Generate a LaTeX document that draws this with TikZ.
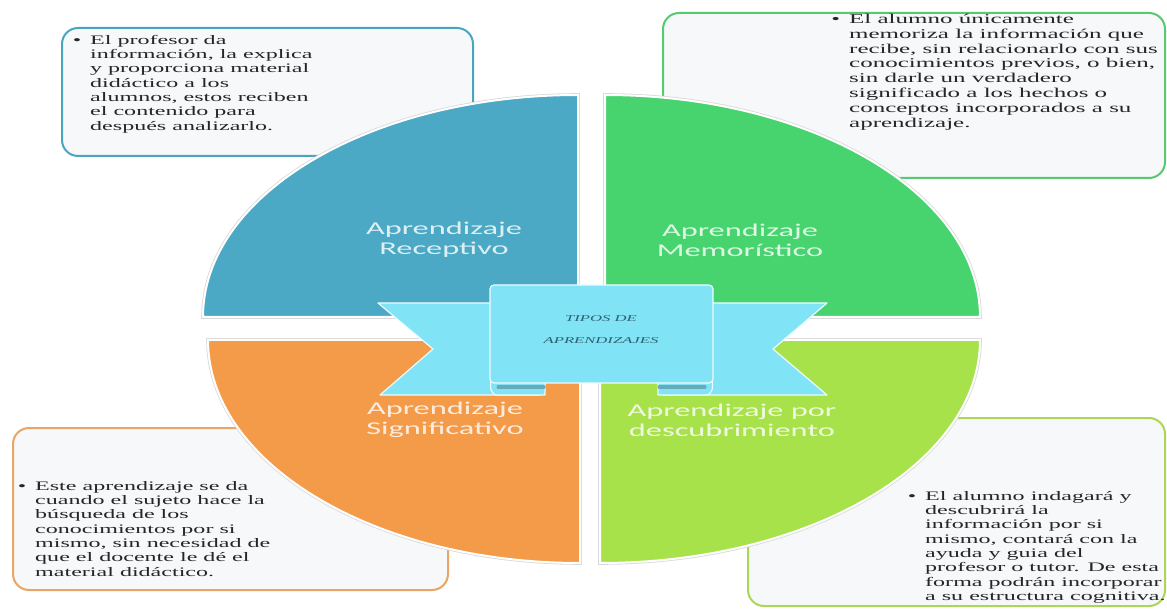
\documentclass[tikz,border=0pt]{standalone}
\usepackage{fontspec}
\setmainfont{Liberation Serif}[FakeStretch=1.85]
\newfontfamily\labfont{Carlito}[FakeStretch=1.8]
\definecolor{qblue}{HTML}{4BA9C6}
\definecolor{qgreen}{HTML}{47D46F}
\definecolor{qorange}{HTML}{F49B4A}
\definecolor{qlime}{HTML}{A8E24A}
\definecolor{rib}{HTML}{80E3F6}
\definecolor{ribdark}{HTML}{6AA9BA}
\definecolor{ribtxt}{HTML}{2F5F70}
\definecolor{boxfill}{HTML}{F6F8FA}
\definecolor{bblue}{HTML}{4CA5BF}
\definecolor{bgreen}{HTML}{57C96F}
\definecolor{borange}{HTML}{E9A565}
\definecolor{blime}{HTML}{ACD656}
\tikzset{
  quadshadow/.style={draw=black!15, line width=3.6pt},
  quad/.style={draw=white, line width=2pt},
  infobox/.style={rounded corners=16pt, line width=2pt, fill=boxfill},
  infotext/.style={anchor=north west, inner sep=0pt, align=left, text=black!85,
    font=\fontsize{13}{14.3}\selectfont},
  qlabel/.style={text=white, text opacity=0.82, align=center, inner sep=0pt,
    font=\labfont\fontsize{18}{20}\selectfont},
  ribstyle/.style={fill=rib, draw=white!85!rib, line width=1.2pt, line join=round},
  ribtext/.style={text=ribtxt, align=center, inner sep=0pt,
    font=\itshape\fontsize{9}{22}\selectfont}
}
\newcommand{\bul}{\llap{\textbullet\hspace{9pt}}}
\begin{document}
\begin{tikzpicture}[x=1pt,y=-1pt]
\useasboundingbox (0,0) rectangle (1167,609);
\fill[white] (0,0) rectangle (1167,609);
% info boxes
\draw[infobox, draw=bblue] (62,28) rectangle (473,156);
\draw[infobox, draw=bgreen] (663,13) rectangle (1165,178);
\draw[infobox, draw=borange] (13,428) rectangle (448,590);
\draw[infobox, draw=blime] (748,418) rectangle (1165,606);
% quadrants
\path[quadshadow] (578,317) -- (578,95) arc[start angle=90,end angle=180,x radius=375pt,y radius=222pt] -- cycle;
\path[quad, fill=qblue] (578,317) -- (578,95) arc[start angle=90,end angle=180,x radius=375pt,y radius=222pt] -- cycle;
\path[quadshadow] (605,317) -- (605,95) arc[start angle=90,end angle=0,x radius=375pt,y radius=222pt] -- cycle;
\path[quad, fill=qgreen] (605,317) -- (605,95) arc[start angle=90,end angle=0,x radius=375pt,y radius=222pt] -- cycle;
\path[quadshadow] (580,340) -- (208,340) arc[start angle=180,end angle=270,x radius=372pt,y radius=223pt] -- cycle;
\path[quad, fill=qorange] (580,340) -- (208,340) arc[start angle=180,end angle=270,x radius=372pt,y radius=223pt] -- cycle;
\path[quadshadow] (600,340) -- (980,340) arc[start angle=0,end angle=-90,x radius=380pt,y radius=223pt] -- cycle;
\path[quad, fill=qlime] (600,340) -- (980,340) arc[start angle=0,end angle=-90,x radius=380pt,y radius=223pt] -- cycle;
% quadrant labels
\node[qlabel] (lrec) at (444,240) {Aprendizaje\\Receptivo};
\node[qlabel] (lmem) at (740,240) {Aprendizaje\\Memorístico};
\node[qlabel] (lsig) at (445,420) {Aprendizaje\\Significativo};
\node[qlabel] (ldes) at (732,420) {Aprendizaje por\\descubrimiento};
% ribbon
\path[ribstyle] (500,303) -- (378,303) -- (433,349) -- (380,395) -- (540,395) -- (540,303) -- cycle;
\path[ribstyle] (703,303) -- (827,303) -- (773,349) -- (827,395) -- (663,395) -- (663,303) -- cycle;
\path[ribstyle] (545,378) -- (545,395) -- (498,395) .. controls (490,395) and (490,388) .. (491,378) -- cycle;
\path[ribstyle] (658,378) -- (658,395) -- (705,395) .. controls (713,395) and (713,388) .. (712,378) -- cycle;
\draw[ribdark, line width=3pt, line cap=round] (498,387) -- (544,387);
\draw[ribdark, line width=3pt, line cap=round] (659,387) -- (705,387);
\path[ribstyle, rounded corners=4pt] (490,285) rectangle (713,383);
\node[ribtext] (title) at (601,330) {TIPOS DE\\APRENDIZAJES};
% texts
\node[infotext] (trec) at (90,35) {\bul El profesor da\\información, la explica\\y proporciona material\\didáctico a los\\alumnos, estos reciben\\el contenido para\\después analizarlo.};
\node[infotext, font=\fontsize{13.5}{14.8}\selectfont] (tmem) at (849,14) {\bul El alumno únicamente\\memoriza la información que\\recibe, sin relacionarlo con sus\\conocimientos previos, o bien,\\sin darle un verdadero\\significado a los hechos o\\conceptos incorporados a su\\aprendizaje.};
\node[infotext] (tsig) at (35,481) {\bul Este aprendizaje se da\\cuando el sujeto hace la\\búsqueda de los\\conocimientos por si\\mismo, sin necesidad de\\que el docente le dé el\\material didáctico.};
\node[infotext] (tdes) at (925,491) {\bul El alumno indagará y\\descubrirá la\\información por si\\mismo, contará con la\\ayuda y guia del\\profesor o tutor. De esta\\forma podrán incorporar\\a su estructura cognitiva.};
\end{tikzpicture}
\end{document}
